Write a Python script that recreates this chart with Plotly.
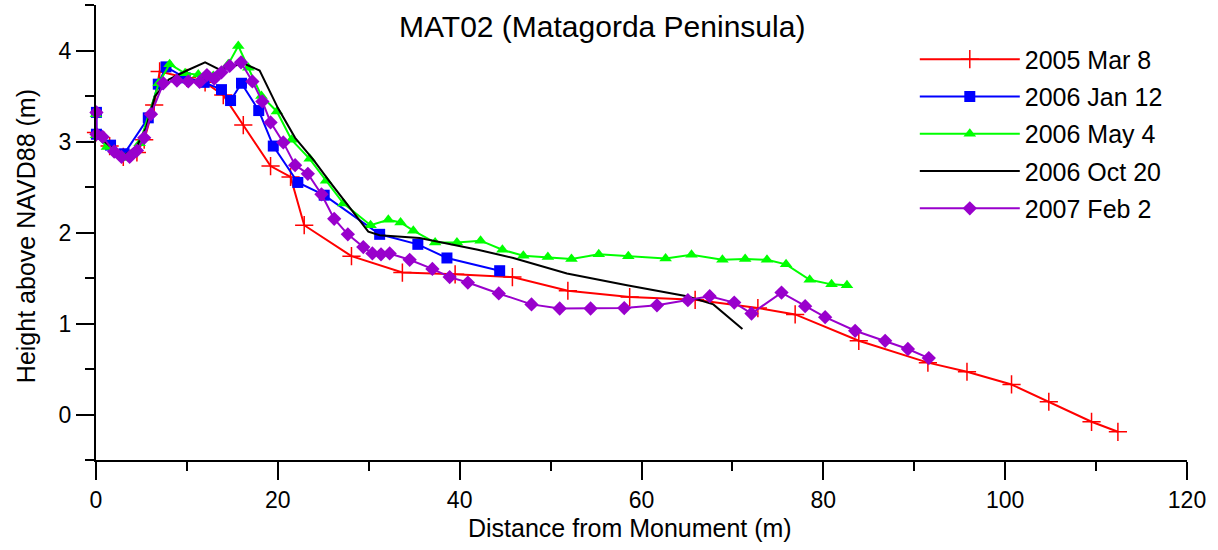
import plotly.graph_objects as go

# ---- data ----
mar05_x = [0.0, 1.5, 3.0, 4.5, 5.3, 6.4, 7.0, 10.0, 12.0, 14.0, 16.2, 19.2, 21.4, 22.9, 28.1, 33.7,
           39.5, 45.8, 51.9, 58.7, 65.9, 72.8, 76.9, 83.9, 91.5, 95.8, 100.7, 104.8, 109.5, 112.4]
mar05_y = [3.10, 2.95, 2.83, 2.88, 3.02, 3.40, 3.77, 3.70, 3.65, 3.51, 3.18, 2.73, 2.61, 2.08, 1.74, 1.56,
           1.54, 1.51, 1.36, 1.29, 1.26, 1.17, 1.10, 0.81, 0.57, 0.47, 0.33, 0.14, -0.08, -0.19]

jan06_x = [0.05, 0.05, 1.6, 3.1, 5.75, 6.85, 7.7, 9.8, 11.9, 13.8, 14.8, 16.0, 17.9, 19.5, 22.2, 25.1,
           31.2, 35.4, 38.6, 44.4]
jan06_y = [3.32, 3.08, 2.96, 2.865, 3.26, 3.63, 3.82, 3.70, 3.65, 3.57, 3.45, 3.64, 3.34, 2.95, 2.55, 2.41,
           1.98, 1.87, 1.72, 1.58]

may06_x = [0.0, 0.0, 1.2, 3.2, 4.8, 6.9, 8.1, 9.8, 11.25, 12.9, 14.55, 15.65, 16.75, 18.2, 19.9, 21.5,
           23.5, 25.3, 27.2, 30.2, 32.15, 33.5, 34.9, 37.3, 39.7, 42.3, 44.7, 47.0, 49.7, 52.3, 55.3,
           58.55, 62.65, 65.5, 68.9, 71.4, 73.8, 75.9, 78.5, 80.9, 82.6]
may06_y = [3.30, 3.07, 2.94, 2.82, 2.98, 3.64, 3.85, 3.75, 3.735, 3.72, 3.85, 4.05, 3.81, 3.50, 3.33, 3.02,
           2.81, 2.57, 2.32, 2.08, 2.14, 2.11, 2.02, 1.89, 1.89, 1.91, 1.81, 1.745, 1.73, 1.71, 1.76,
           1.74, 1.715, 1.755, 1.70, 1.71, 1.70, 1.65, 1.48, 1.43, 1.42]

oct06_x = [0.0, 1.5, 3.2, 4.5, 5.5, 6.5, 8.0, 10.0, 12.0, 13.6, 16.2, 18.0, 20.0, 21.9, 23.9, 25.7,
           29.95, 31.2, 35.6, 42.0, 45.9, 49.9, 51.8, 58.4, 65.0, 67.9, 71.1]
oct06_y = [3.08, 2.95, 2.85, 2.95, 3.15, 3.50, 3.68, 3.78, 3.87, 3.79, 3.86, 3.78, 3.37, 3.04, 2.80, 2.56,
           2.01, 1.97, 1.94, 1.81, 1.72, 1.60, 1.55, 1.42, 1.30, 1.21, 0.94]

feb07_x = [0.05, 0.05, 0.73, 2.0, 2.8, 3.7, 4.5, 5.3, 6.05, 7.4, 8.9, 10.15, 11.4, 12.2, 13.0, 13.8,
           14.7, 15.95, 17.2, 18.3, 19.2, 20.6, 21.9, 23.3, 24.8, 26.2, 27.7, 29.4, 30.4, 31.35, 32.3,
           34.5, 37.0, 38.9, 40.9, 44.3, 47.9, 51.0, 54.4, 58.1, 61.7, 65.1, 67.5, 70.2, 72.1, 75.4,
           78.0, 80.2, 83.5, 86.8, 89.3, 91.6]
feb07_y = [3.32, 3.08, 3.05, 2.89, 2.83, 2.83, 2.90, 3.04, 3.30, 3.64, 3.67, 3.66, 3.655, 3.73, 3.69, 3.76,
           3.83, 3.87, 3.66, 3.44, 3.21, 2.99, 2.74, 2.645, 2.42, 2.15, 1.98, 1.84, 1.77, 1.76, 1.77,
           1.70, 1.60, 1.51, 1.45, 1.33, 1.21, 1.165, 1.165, 1.17, 1.20, 1.256, 1.30, 1.23, 1.11, 1.34,
           1.19, 1.07, 0.92, 0.81, 0.72, 0.62]

series_names = ["2005 Mar 8", "2006 Jan 12", "2006 May 4", "2006 Oct 20", "2007 Feb 2"]

x_ticks = [0, 20, 40, 60, 80, 100, 120]
y_ticks = [0, 1, 2, 3, 4]

FONT = "Liberation Sans, Arial, Helvetica, sans-serif"

fig = go.Figure()

fig.add_trace(go.Scatter(
    x=mar05_x, y=mar05_y, name=series_names[0], mode="lines+markers", legendgroup="g1",
    line=dict(color="#ff0000", width=2),
    marker=dict(symbol="cross-thin", size=13, color="#ff0000", line=dict(color="#ff0000", width=1.5)),
    cliponaxis=False))
fig.add_trace(go.Scatter(
    x=jan06_x, y=jan06_y, name=series_names[1], mode="lines+markers", legendgroup="g2",
    line=dict(color="#0000ff", width=2),
    marker=dict(symbol="square", size=11, color="#0000ff"),
    cliponaxis=False))
fig.add_trace(go.Scatter(
    x=may06_x, y=may06_y, name=series_names[2], mode="lines+markers", legendgroup="g3",
    line=dict(color="#00ff00", width=2),
    marker=dict(symbol="triangle-up", size=11, color="#00ff00"),
    cliponaxis=False))
fig.add_trace(go.Scatter(
    x=oct06_x, y=oct06_y, name=series_names[3], mode="lines", legendgroup="g4",
    line=dict(color="#000000", width=2),
    cliponaxis=False))
fig.add_trace(go.Scatter(
    x=feb07_x, y=feb07_y, name=series_names[4], mode="lines+markers", legendgroup="g5",
    line=dict(color="#9900cc", width=2),
    marker=dict(symbol="diamond", size=11, color="#9900cc"),
    cliponaxis=False))

axis_common = dict(
    showline=True, linecolor="black", linewidth=2, mirror=False,
    showgrid=False, zeroline=False,
    ticks="outside", ticklen=18, tickwidth=2, tickcolor="black",
    tickfont=dict(family=FONT, size=23, color="black"),
)

fig.update_layout(
    width=1218, height=550,
    paper_bgcolor="white", plot_bgcolor="white",
    margin=dict(l=96, r=31, t=5, b=90),
    font=dict(family=FONT, color="black"),
    title=dict(text="MAT02 (Matagorda Peninsula)", x=0.464, xref="paper", xanchor="center",
               y=1 - 26 / 550, yref="container", yanchor="middle",
               font=dict(family=FONT, size=30, color="black")),
    xaxis=dict(range=[0, 120], tickvals=x_ticks, ticktext=[str(v) for v in x_ticks],
               minor=dict(dtick=10, tick0=0, ticklen=9, tickwidth=2, tickcolor="black", ticks="outside"),
               **axis_common),
    yaxis=dict(range=[-0.5, 4.5], tickvals=y_ticks, ticktext=[str(v) for v in y_ticks],
               minor=dict(dtick=0.5, tick0=0, ticklen=9, tickwidth=2, tickcolor="black", ticks="outside"),
               **axis_common),
    legend=dict(x=0.7505, y=0.931, xanchor="left", yanchor="top", bgcolor="rgba(0,0,0,0)",
                font=dict(family=FONT, size=25, color="black"), itemwidth=100,
                traceorder="grouped", tracegroupgap=1.8),
    annotations=[
        dict(text="Distance from Monument (m)", xref="paper", yref="paper", x=0.4895, y=0,
             xanchor="center", yanchor="middle", yshift=-68, showarrow=False,
             font=dict(family=FONT, size=25, color="black")),
        dict(text="Height above NAVD88 (m)", xref="paper", yref="paper", x=0, y=0.492,
             xanchor="center", yanchor="middle", xshift=-70, textangle=-90, showarrow=False,
             font=dict(family=FONT, size=25, color="black")),
    ],
)

fig.write_html("out.html", config={"displayModeBar": False},
               post_script="document.body.style.margin='0';")
